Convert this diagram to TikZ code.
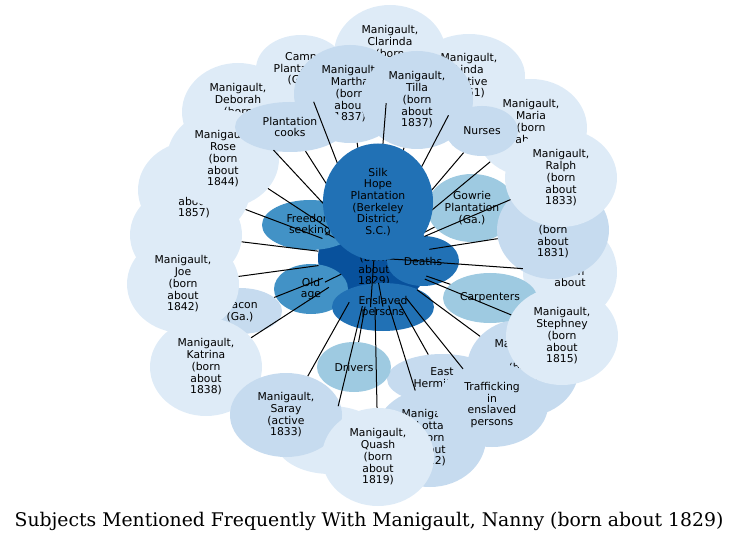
\documentclass[tikz,border=0pt]{standalone}
\usepackage{fontspec}
\usetikzlibrary{shapes.geometric}
\newfontfamily\nodefont{DejaVu Sans}
\newfontfamily\titlefont{DejaVu Serif}
\definecolor{cA}{HTML}{08519C}
\definecolor{cB}{HTML}{2171B5}
\definecolor{cC}{HTML}{4292C6}
\definecolor{cD}{HTML}{9ECAE1}
\definecolor{cE}{HTML}{C6DBEF}
\definecolor{cF}{HTML}{DEEBF7}
\tikzset{
  nd/.style={ellipse, inner sep=0pt, align=center, text=black,
    font=\nodefont\fontsize{10.8bp}{11.7bp}\selectfont},
  big/.style={nd, minimum width=112bp, minimum height=98bp},
  four/.style={nd, minimum width=112bp, minimum height=84bp},
  three/.style={nd, minimum width=90bp, minimum height=68bp},
  edge/.style={draw=black, line width=1bp},
}
\begin{document}
\begin{tikzpicture}[x=1bp, y=-1bp]
\useasboundingbox (0,0) rectangle (745,543);
\node[big, fill=cA] (c) at (374,258) {Manigault,\\Nanny\\(born\\about\\1829)};
\node[big, fill=cF] (clarinda) at (390,54) {Manigault,\\Clarinda\\(born\\\phantom{about}\\\phantom{1800)}};
\node[three, fill=cF] (camp) at (301,69) {Camp\\Plantation\\(Ga.)};
\node[four, fill=cF] (linda) at (469,76) {Manigault,\\Linda\\(active\\1861)};
\node[big, fill=cF] (deborah) at (238,112) {Manigault,\\Deborah\\(born\\\phantom{about}\\\phantom{1800)}};
\node[big, fill=cE] (martha) at (350,94) {Manigault,\\Martha\\(born\\about\\1837)};
\node[big, fill=cE] (tilla) at (417,100) {Manigault,\\Tilla\\(born\\about\\1837)};
\node[big, fill=cF] (maria) at (531,128) {Manigault,\\Maria\\(born\\about\\\phantom{1800)}};
\node[nd, fill=cE, minimum width=72bp, minimum height=50bp] (nurses) at (482,131) {Nurses};
\node[three, fill=cD] (gowrie) at (472,208) {Gowrie\\Plantation\\(Ga.)};
\node[big, fill=cF, minimum width=94bp] (about) at (570,272) {\phantom{Name}\\\phantom{Name}\\(born\\about\\\phantom{1800)}};
\node[big, fill=cE] (m1831) at (553,230) {Manigault,\\\phantom{Name}\\(born\\about\\1831)};
\node[big, fill=cF] (ralph) at (561,178) {Manigault,\\Ralph\\(born\\about\\1833)};
\node[big, fill=cF] (hidl) at (186,235) {};
\node[big, fill=cF] (m1857) at (194,190) {\phantom{Manigault,}\\\phantom{Name}\\\phantom{(born}\\about\\1857)};
\node[big, fill=cF] (rose) at (223,159) {Manigault,\\Rose\\(born\\about\\1844)};
\node[nd, fill=cE, minimum width=110bp, minimum height=50bp] (cooks) at (290,127) {Plantation\\cooks};
\node[nd, fill=cE, minimum width=84bp, minimum height=46bp] (macon) at (240,311) {Macon\\(Ga.)};
\node[big, fill=cF] (joe) at (183,284) {Manigault,\\Joe\\(born\\about\\1842)};
\node[big, fill=cF] (katrina) at (206,367) {Manigault,\\Katrina\\(born\\about\\1838)};
\node[three, fill=cF, minimum width=110bp] (hidn) at (330,440) {\phantom{X}\\\phantom{X}\\\phantom{X}};
\node[four, fill=cE] (saray) at (286,415) {Manigault,\\Saray\\(active\\1833)};
\node[big, fill=cE] (lotta) at (430,438) {Manigault,\\Lotta\\(born\\about\\1822)};
\node[big, fill=cF] (quash) at (378,457) {Manigault,\\Quash\\(born\\about\\1819)};
\node[nd, fill=cE, minimum width=110bp, minimum height=50bp] (easth) at (442,379) {East\\Hermitage};
\node[big, fill=cE] (mag) at (523,368) {Manigault,\\\phantom{Name}\\(born\\about\\\phantom{1800)}};
\node[four, fill=cE] (traff) at (492,405) {Trafficking\\in\\enslaved\\persons};
\node[nd, fill=cD, minimum width=94bp, minimum height=50bp] (carp) at (490,298) {Carpenters};
\node[big, fill=cF] (stephney) at (562,336) {Manigault,\\Stephney\\(born\\about\\1815)};
\node[nd, fill=cD, minimum width=74bp, minimum height=50bp] (drivers) at (354,367) {Drivers};
\node[nd, fill=cC, minimum width=96bp, minimum height=50bp] (freedom) at (310,225) {Freedom\\seeking};
\node[nd, fill=cC, minimum width=74bp, minimum height=50bp] (oldage) at (311,289) {Old\\age};
\node[nd, fill=cB, minimum width=102bp, minimum height=48bp] (ensl) at (383,307) {Enslaved\\persons};
\node[nd, fill=cB, minimum width=72bp, minimum height=50bp] (deaths) at (423,261) {Deaths};
\foreach \t in {clarinda,camp,linda,deborah,martha,tilla,nurses,maria,gowrie,about,m1831,ralph,hidl,m1857,rose,cooks,macon,joe,katrina,hidn,saray,lotta,quash,easth,mag,traff,carp,stephney,drivers,freedom,oldage,ensl,deaths}
  \draw[edge] (c) -- (\t);
\node[nd, fill=cB, minimum width=110bp, minimum height=117bp] (silk) at (378,202) {Silk\\Hope\\Plantation\\(Berkeley\\District,\\S.C.)};
\draw[edge] (c) -- (silk);
\node[font=\titlefont\fontsize{18.8bp}{22bp}\selectfont, inner sep=0pt] (title) at (369,521) {Subjects Mentioned Frequently With Manigault, Nanny (born about 1829)};
\end{tikzpicture}
\end{document}
